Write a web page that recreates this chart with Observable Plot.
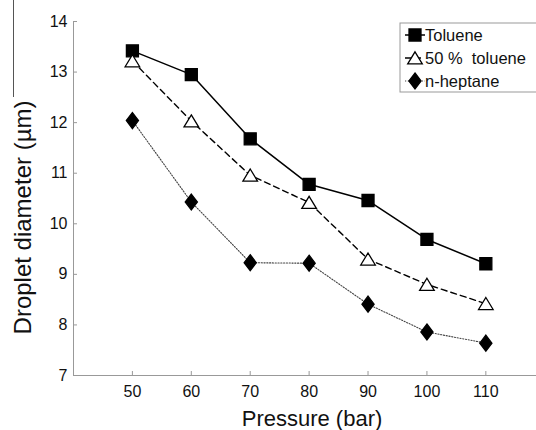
<!DOCTYPE html>
<html>
<head>
<meta charset="utf-8">
<script src="https://cdn.jsdelivr.net/npm/d3@7"></script>
<script src="https://cdn.jsdelivr.net/npm/@observablehq/plot@0.6"></script>
<style>
  html, body { margin: 0; padding: 0; background: #fff; }
  #chart svg { display: block; }
</style>
</head>
<body>
<div id="chart"></div>
<script>
// ---- data ----
const pressure = [50, 60, 70, 80, 90, 100, 110];
const toluene = [13.42, 12.95, 11.68, 10.78, 10.46, 9.69, 9.21];
const toluene50 = [13.22, 12.03, 10.96, 10.42, 9.30, 8.80, 8.42];
const heptane = [12.04, 10.43, 9.23, 9.22, 8.41, 7.86, 7.64];
const seriesNames = ["Toluene", "50 %  toluene", "n-heptane"];
const xTicks = [50, 60, 70, 80, 90, 100, 110];
const yTicks = [7, 8, 9, 10, 11, 12, 13, 14];
const xLabel = "Pressure (bar)";
const yLabel = "Droplet diameter (µm)";

// ---- custom marker shapes (r = half size) ----
const symSquare = { draw(ctx, size) { const r = Math.sqrt(size / Math.PI); ctx.rect(-r, -r, 2 * r, 2 * r); } };
const symTriangle = { draw(ctx, size) { const r = Math.sqrt(size / Math.PI); ctx.moveTo(0, -0.85 * r); ctx.lineTo(r, 0.8 * r); ctx.lineTo(-r, 0.8 * r); ctx.closePath(); } };
const symDiamond = { draw(ctx, size) { const r = Math.sqrt(size / Math.PI); ctx.moveTo(0, -r); ctx.lineTo(0.76 * r, 0); ctx.lineTo(0, r); ctx.lineTo(-0.76 * r, 0); ctx.closePath(); } };

const styles = [
  { values: toluene, symbol: symSquare, r: 6, fill: "#000", dash: null, width: 1.5, stroke: "#000" },
  { values: toluene50, symbol: symTriangle, r: 7.3, fill: "#fff", dash: "6,4", width: 1.4, stroke: "#000" },
  { values: heptane, symbol: symDiamond, r: 8, fill: "#000", dash: "1.2,1.6", width: 1.1, stroke: "#444" }
];

const series = styles.map((s, k) => pressure.map((p, i) => ({ p, v: s.values[i], name: seriesNames[k] })));

// ---- legend drawn inside the svg ----
function legend(index, scales, values, dims) {
  const g = d3.create("svg:g");
  const left = dims.width - 136, top = dims.marginTop + 2;
  // stray frame line at the far left of the original figure
  g.append("line").attr("x1", 13.5).attr("x2", 13.5).attr("y1", 0).attr("y2", 97)
    .attr("stroke", "#555").attr("stroke-width", 1);
  g.append("rect").attr("x", left).attr("y", top).attr("width", 150).attr("height", 69)
    .attr("fill", "#fff").attr("stroke", "#999").attr("stroke-width", 1);
  styles.forEach((s, i) => {
    const cy = top + 12 + i * 23, cx = left + 15;
    g.append("line").attr("x1", left + 5).attr("x2", left + 25).attr("y1", cy).attr("y2", cy)
      .attr("stroke", s.stroke).attr("stroke-width", s.width).attr("stroke-dasharray", s.dash);
    const p = d3.path();
    s.symbol.draw(p, Math.PI * s.r * s.r);
    g.append("path").attr("d", p.toString()).attr("transform", `translate(${cx},${cy})`)
      .attr("fill", s.fill).attr("stroke", "#000").attr("stroke-width", 1.3);
    g.append("text").attr("x", left + 25).attr("y", cy).attr("dy", "0.35em")
      .attr("text-anchor", "start")
      .style("white-space", "pre").attr("font-size", 16.5).attr("fill", "#111")
      .text(seriesNames[i]);
  });
  return g.node();
}

const marks = [
  Plot.ruleY([7], { stroke: "#999" }),
  Plot.ruleX([40], { stroke: "#999" }),
  Plot.axisX(xTicks, { tickSize: -4, tickPadding: 14, stroke: "#999", fill: "#111", fontSize: 16, label: null, tickFormat: "d" }),
  Plot.axisY(yTicks, { tickSize: -4, tickPadding: 10, stroke: "#999", fill: "#111", fontSize: 16, label: null, tickFormat: "d" }),
  Plot.text([xLabel], { frameAnchor: "bottom", textAnchor: "middle", lineAnchor: "middle", dx: 7, dy: 43, fontSize: 22, fill: "#111" }),
  Plot.text([yLabel], { frameAnchor: "left", textAnchor: "middle", lineAnchor: "middle", dx: -50, dy: 19, rotate: -90, fontSize: 24, fill: "#111" })
];
styles.forEach((s, k) => {
  marks.push(Plot.line(series[k], { x: "p", y: "v", stroke: s.stroke, strokeWidth: s.width, strokeDasharray: s.dash }));
});
styles.forEach((s, k) => {
  marks.push(Plot.dot(series[k], { x: "p", y: "v", symbol: () => s.symbol, r: s.r, fill: s.fill, stroke: "#000", strokeWidth: 1.3 }));
});
marks.push(legend);

const chart = Plot.plot({
  width: 536,
  height: 430,
  marginLeft: 73,
  marginRight: 0,
  marginTop: 21,
  marginBottom: 55,
  style: { fontFamily: "'Liberation Sans', Arial, sans-serif", fontSize: "16px", background: "#fff", color: "#111" },
  x: { type: "linear", domain: [40, 118.6] },
  y: { type: "linear", domain: [7, 14] },
  symbol: { type: "identity" },
  marks
});
document.getElementById("chart").append(chart);
</script>
</body>
</html>
